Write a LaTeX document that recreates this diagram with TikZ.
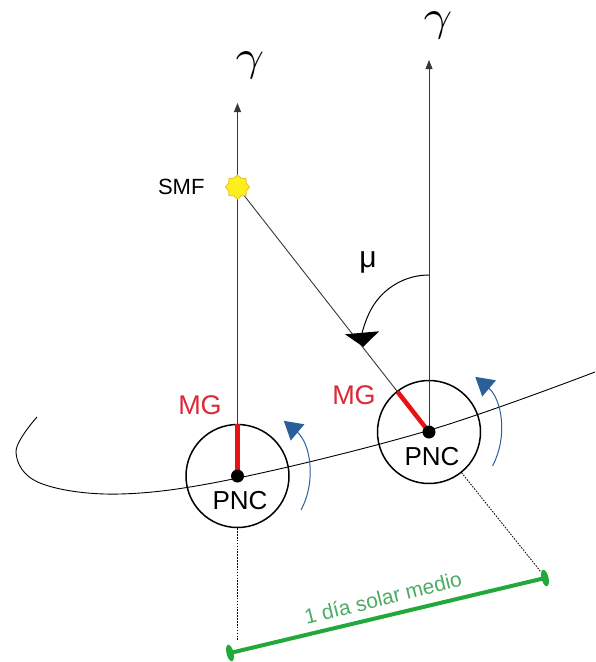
\documentclass[tikz,border=0pt]{standalone}
\usepackage{graphicx}
\usepackage{fontspec}
\setmainfont{Liberation Sans}
\usetikzlibrary{arrows.meta,shapes.geometric,calc}

\definecolor{mgred}{RGB}{221,40,55}
\definecolor{barred}{RGB}{232,18,22}
\definecolor{rotblue}{RGB}{42,96,153}
\definecolor{daygreen}{RGB}{35,168,60}
\definecolor{daytext}{RGB}{75,172,100}
\definecolor{sungold}{RGB}{232,192,30}
\definecolor{sunfill}{RGB}{255,238,30}
\definecolor{axisgray}{RGB}{55,55,55}

\newcommand{\vernal}{\scalebox{5}[4.3]{$\gamma$}}

\begin{document}
\begin{tikzpicture}[x=1pt,y=-1pt,
  axis/.style={draw=axisgray, line width=0.9pt},
  axistip/.style={-{Triangle[width=7pt,length=9pt]}},
  earth/.style={circle, draw=black, line width=1.5pt, minimum size=103pt, inner sep=0pt},
  centre/.style={circle, fill=black, minimum size=13pt, inner sep=0pt},
  meridian/.style={draw=barred, line width=4.5pt},
  lbl/.style={font=\fontsize{26}{30}\selectfont},
  mglbl/.style={text=mgred, font=\fontsize{27}{30}\selectfont},
  gammalbl/.style={inner sep=0pt},
  spin/.style={draw=rotblue, line width=1pt, -{Triangle[width=21pt,length=18pt]}},
  guide/.style={draw=black, line width=0.8pt, dash pattern=on 1.6pt off 1.3pt},
  endmark/.style={ellipse, fill=daygreen, minimum width=7pt, minimum height=17pt, inner sep=0pt, rotate=13.4},
  ]
\useasboundingbox (0,0) rectangle (595,662);

% orbit of the Earth
\draw[line width=0.9pt] plot[smooth, tension=0.6] coordinates
  {(37,417) (16,452) (40,483) (120,494) (238,478) (430,430) (595,372)};

% the two positions of the Earth
\coordinate (Lc) at (237.5,476);
\coordinate (Rc) at (429,432);
\node[earth] (Lcirc) at (Lc) {};
\node[earth] (Rcirc) at (Rc) {};

% directions to the vernal point
\coordinate (Ltop) at (237.5,103);
\coordinate (Rtop) at (429,60);
\draw[axis, axistip] (Lc) -- (Ltop);
\draw[axis, axistip] (Rc) -- (Rtop);
\node[gammalbl] (gL) at (250,65) {\vernal};
\node[gammalbl] (gR) at (438,25) {\vernal};

% mean fictitious sun
\node[star, star points=8, star point ratio=1.25, fill=sunfill, draw=sungold,
      line width=0.8pt, minimum size=24pt, inner sep=0pt] (sun) at (237.5,187) {};
\node[font=\fontsize{22}{25}\selectfont, anchor=east] (smf) at (208,187) {SMF};
\draw[axis] (sun) -- (Rc);

% hour angle mu
\coordinate (muStart) at (429,275);
\draw[line width=1pt, -{Triangle[width=34pt,length=14pt]}]
  (muStart) arc[start angle=-90, end angle=-185, radius=66];
\node[font=\fontsize{30}{34}\selectfont] (mu) at (368,262) {μ};

% local meridians
\draw[meridian] (Lc) -- (Lcirc.north);
\draw[meridian] (Rc) -- ($(Rc)!51pt!(sun)$);
\node[mglbl] (mgL) at (200,405) {MG};
\node[mglbl] (mgR) at (354,395) {MG};

% centres
\node[centre] (Ld) at (Lc) {};
\node[centre] (Rd) at (Rc) {};
\node[lbl] (pncL) at (240,501) {PNC};
\node[lbl] (pncR) at (432,457) {PNC};

% sense of rotation
\draw[spin] ($(Lc)+(28:72)$) arc[start angle=28, end angle=-50, radius=72];
\draw[spin] ($(Rc)+(28:72)$) arc[start angle=28, end angle=-50, radius=72];

% one mean solar day
\node[endmark] (dA) at (230,653) {};
\node[endmark] (dB) at (545,578) {};
\coordinate (gLbot) at (237.5,641);
\coordinate (gRbot) at (541,572);
\draw[guide] (Lcirc.south) -- (gLbot);
\draw[guide] ($(Rc)!52pt!(gRbot)$) -- (gRbot);
\draw[draw=daygreen, line width=4pt] (dA.center) -- (dB.center);
\node[text=daytext, font=\fontsize{21}{25}\selectfont, rotate=14] (daylbl) at (383,598) {1 día solar medio};
\end{tikzpicture}
\end{document}
